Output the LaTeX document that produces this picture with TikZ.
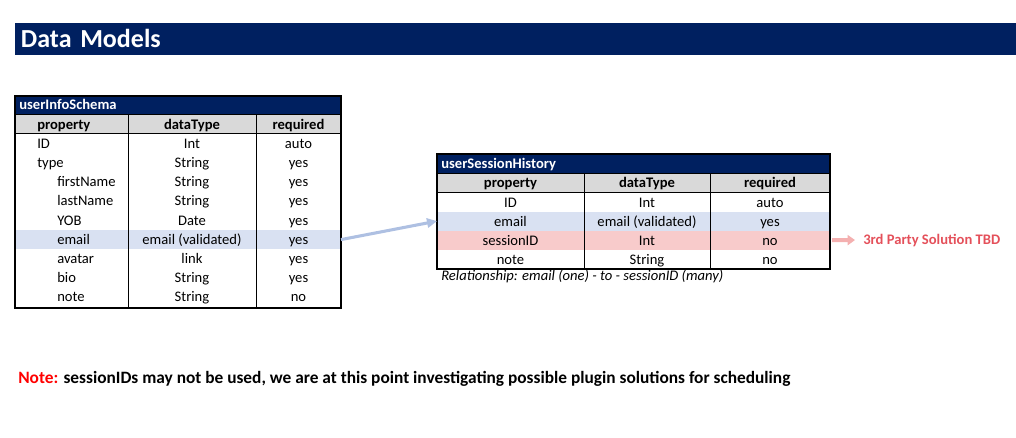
\documentclass[tikz,border=0pt,11pt]{standalone}
\usepackage{fontspec}
\setmainfont{Carlito}
\usetikzlibrary{arrows.meta,positioning}
\definecolor{navy}{HTML}{002060}
\definecolor{hdrgray}{HTML}{D9D9D9}
\definecolor{rowblue}{HTML}{D9E1F2}
\definecolor{rowpink}{HTML}{F8CBCB}
\definecolor{linkblue}{HTML}{AEC0E2}
\definecolor{tbdpink}{HTML}{F4B0B0}
\definecolor{tbdred}{HTML}{E4505A}
\definecolor{notered}{HTML}{FF0000}

\begin{document}
\begin{tikzpicture}[x=0.75pt,y=-0.75pt,
  cell/.style={inner sep=0pt,text height=7.1pt,text depth=0pt},
  rowfill/.style={inner sep=0pt,outer sep=0pt,draw=none},
  tbltitle/.style={fill=navy,text=white,font=\bfseries,anchor=west,inner xsep=3pt,inner ysep=0pt,align=left,text height=7.1pt,text depth=0pt},
  pagetitle/.style={fill=navy,text=white,font=\bfseries\fontsize{19.5}{23}\selectfont,anchor=west,inner xsep=4.3pt,inner ysep=0pt,align=left,text height=12.6pt,text depth=0pt},
  grid/.style={line width=.6pt,draw=black},
  frame/.style={line width=1.5pt,draw=black},
  linkarrow/.style={-{Triangle[length=7.5pt,width=7pt]},line width=2.3pt,draw=linkblue},
  tbdarrow/.style={-{Triangle[length=5.5pt,width=7.5pt]},line width=3pt,draw=tbdpink,shorten <=1.5pt,shorten >=6pt}
]
\useasboundingbox (0,0) rectangle (1016,438);

\node[pagetitle,minimum height=23.8pt,text width=742.1pt] (title) at (15,39.2) {Data Models};

% userInfoSchema
\node[tbltitle,minimum height=13.1pt,text width=238.5pt] (info) at (15,105.25) {userInfoSchema};
\node[rowfill,fill=hdrgray,minimum width=244.5pt,minimum height=14.6pt] (infohead) at (178,123.75) {};
\node[rowfill,fill=rowblue,minimum width=244.5pt,minimum height=14.4pt] (infoemail) at (178,239.6) {};
\node[cell,anchor=west,font=\bfseries] (infoHP) at (37,124.3) {property};
\node[cell,font=\bfseries] (infoHT) at (192,124.3) {dataType};
\node[cell,font=\bfseries] (infoHR) at (298.5,124.3) {required};
\foreach \prop/\ind/\dtype/\req [count=\i from 0] in
  {ID/0/Int/auto,type/0/String/yes,firstName/1/String/yes,lastName/1/String/yes,
   YOB/1/Date/yes,email/1/email (validated)/yes,avatar/1/link/yes,bio/1/String/yes,note/1/String/no}
{
  \node[cell,anchor=west] (infoP\i) at ({37+20*\ind},{143.6+19.2*\i}) {\prop};
  \node[cell] (infoT\i) at (192,{143.6+19.2*\i}) {\dtype};
  \node[cell] (infoR\i) at (298.5,{143.6+19.2*\i}) {\req};
}
\draw[grid] (15,114) -- (341,114) (15,133.5) -- (341,133.5);
\draw[grid] (128,114) -- (128,307.5) (256,114) -- (256,307.5);
\draw[frame] (15,96.5) rectangle (341,307.5);

% userSessionHistory
\node[tbltitle,minimum height=14.5pt,text width=288.75pt] (sess) at (437,163.6) {userSessionHistory};
\node[rowfill,fill=hdrgray,minimum width=294.75pt,minimum height=14.4pt] (sesshead) at (633.5,182.9) {};
\node[rowfill,fill=rowblue,minimum width=294.75pt,minimum height=14.3pt] (sessemail) at (633.5,221.1) {};
\node[rowfill,fill=rowpink,minimum width=294.75pt,minimum height=14.3pt] (sessid) at (633.5,240.2) {};
\node[cell,font=\bfseries] (sessHP) at (510.5,183.2) {property};
\node[cell,font=\bfseries] (sessHT) at (647,183.2) {dataType};
\node[cell,font=\bfseries] (sessHR) at (770,183.2) {required};
\foreach \prop/\dtype/\req [count=\i from 0] in
  {ID/Int/auto,email/email (validated)/yes,sessionID/Int/no,note/String/no}
{
  \node[cell] (sessP\i) at (510.5,{202.3+19.1*\i}) {\prop};
  \node[cell] (sessT\i) at (647,{202.3+19.1*\i}) {\dtype};
  \node[cell] (sessR\i) at (770,{202.3+19.1*\i}) {\req};
}
\draw[grid] (437,173.3) -- (830,173.3) (437,192.5) -- (830,192.5);
\draw[grid] (584,173.3) -- (584,268.8) (710,173.3) -- (710,268.8);
\draw[frame] (437,154) rectangle (830,268.8);
\node[cell,anchor=west,font=\itshape] (rel) at (441,275.5) {Relationship: email (one) - to - sessionID (many)};

\draw[linkarrow] (infoemail.east) -- (sessemail.west);
\node[cell,anchor=west,font=\bfseries,text=tbdred] (tbd) at (863,240) {3rd Party Solution TBD};
\draw[tbdarrow] (sessid.east) -- (tbd.west);

\node[cell,anchor=west,font=\bfseries\fontsize{13}{15}\selectfont,text height=8.4pt] (note) at (18,378) {\textcolor{notered}{Note:} sessionIDs may not be used, we are at this point investigating possible plugin solutions for scheduling};
\end{tikzpicture}
\end{document}
